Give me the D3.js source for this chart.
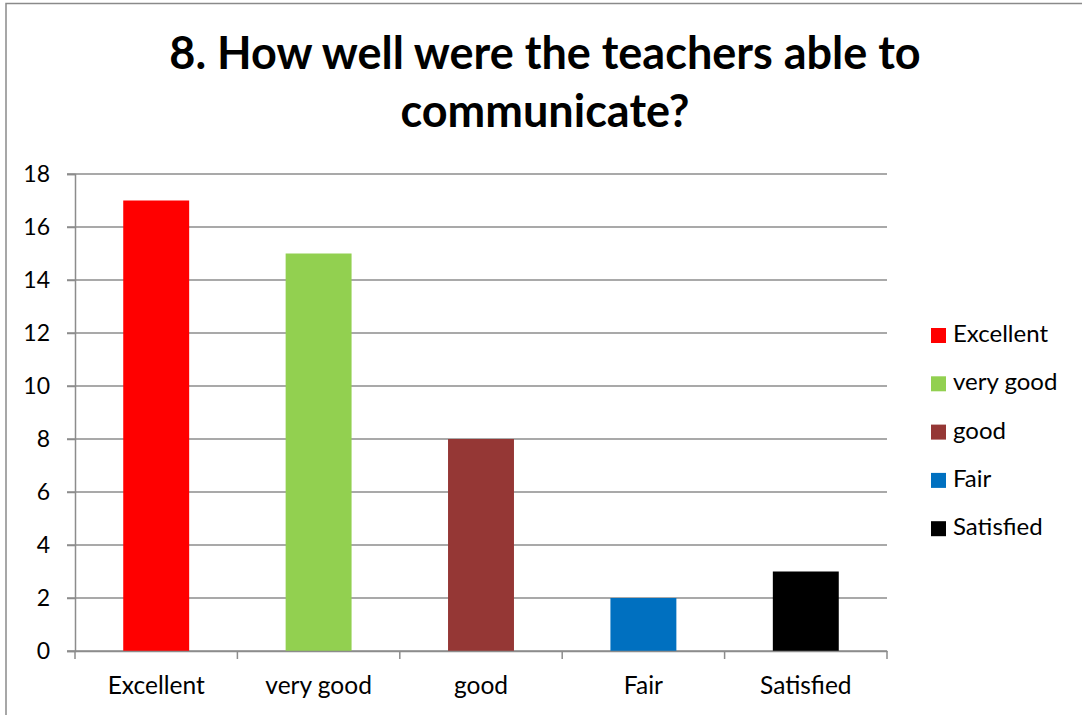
<!DOCTYPE html>
<html><head><meta charset="utf-8">
<script src="https://cdn.jsdelivr.net/npm/d3@7"></script>
<style>body{margin:0;background:#fff}svg{display:block}text{font-family:Lato,"Open Sans",sans-serif}</style>
</head><body>
<svg id="c" width="1082" height="715"></svg>
<script>
const categories = ["Excellent","very good","good","Fair","Satisfied"];
const values = [17,15,8,2,3];
const colors = ["#FF0000","#92D050","#953735","#0070C0","#000000"];
const yTicks = [0,2,4,6,8,10,12,14,16,18];
const titleLines = ["8. How well were the teachers able to","communicate?"];

const svg = d3.select("#c");
svg.append("rect").attr("x",6).attr("y",3.5).attr("width",1100).attr("height",800)
  .attr("fill","#fff").attr("stroke","#8a8a8a").attr("stroke-width",1.5);

const x = d3.scaleBand().domain(categories).range([75,887]).paddingInner(0.594).paddingOuter(0.297);
const y = d3.scaleLinear().domain([0,18]).range([651,174]);

// gridlines
svg.append("g").selectAll("line").data(yTicks).join("line")
  .attr("x1",67).attr("x2",887).attr("y1",d=>y(d)).attr("y2",d=>y(d))
  .attr("stroke","#8c8c8c").attr("stroke-width",1.5);

// y axis
const yAx = svg.append("g").attr("transform","translate(75,0)")
  .call(d3.axisLeft(y).tickValues(yTicks).tickSize(8).tickPadding(17));
yAx.select(".domain").attr("stroke","#8c8c8c").attr("stroke-width",1.5);
yAx.selectAll(".tick line").attr("stroke","#8c8c8c").attr("stroke-width",1.5);
yAx.selectAll("text").attr("font-size",23).attr("fill","#000").attr("font-family","Lato,sans-serif");

// bars
svg.append("g").selectAll("rect").data(values).join("rect")
  .attr("x",(d,i)=>x(categories[i])).attr("width",x.bandwidth())
  .attr("y",d=>y(d)).attr("height",d=>y(0)-y(d))
  .attr("fill",(d,i)=>colors[i]);

// x axis
const xAx = svg.append("g").attr("transform","translate(0,651)")
  .call(d3.axisBottom(x).tickSize(0).tickPadding(0));
xAx.select(".domain").attr("stroke","#8c8c8c").attr("stroke-width",1.5);
xAx.selectAll("text").attr("y",43).attr("dy",0).attr("font-size",24.5).attr("fill","#000").attr("font-family","Lato,sans-serif");
const step = x.step();
const bounds = d3.range(categories.length+1).map(i=>75+i*step);
svg.append("g").selectAll("line").data(bounds).join("line")
  .attr("x1",d=>d).attr("x2",d=>d).attr("y1",651).attr("y2",659)
  .attr("stroke","#8c8c8c").attr("stroke-width",1.5);

// title
svg.append("g").selectAll("text").data(titleLines).join("text")
  .attr("x",545).attr("y",(d,i)=>69+i*58).attr("text-anchor","middle")
  .attr("font-size",45).attr("font-weight","bold").attr("fill","#000").text(d=>d);

// legend
const lg = svg.append("g").selectAll("g").data(categories).join("g")
  .attr("transform",(d,i)=>`translate(931,${342+i*48.3})`);
lg.append("rect").attr("x",0).attr("y",-14).attr("width",15).attr("height",15).attr("fill",(d,i)=>colors[i]);
lg.append("text").attr("x",22).attr("y",0).attr("font-size",24).attr("fill","#000").text(d=>d);
</script>
</body></html>
